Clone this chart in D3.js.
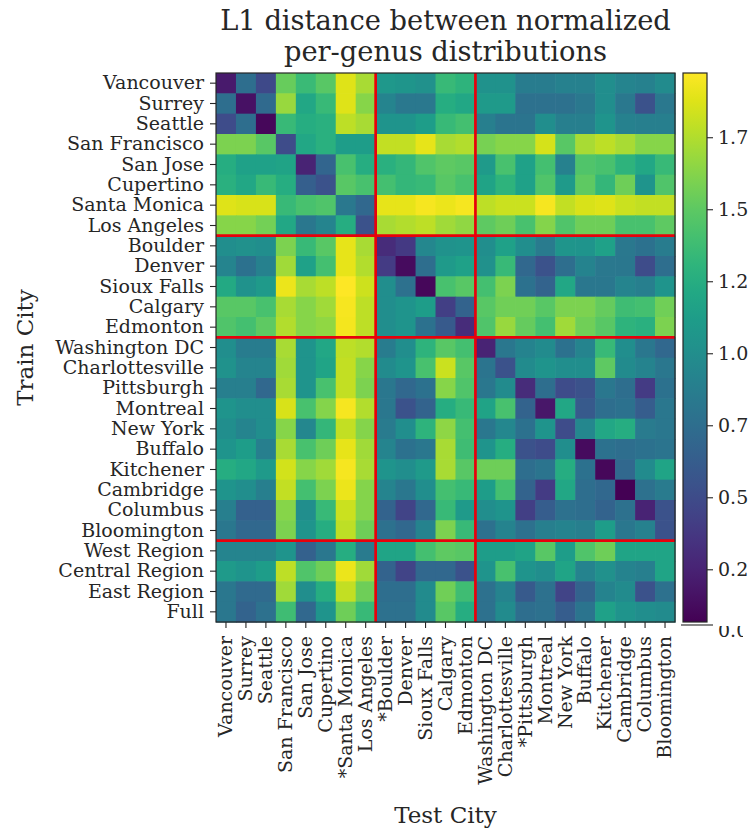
<!DOCTYPE html>
<html>
<head>
<meta charset="utf-8">
<script src="https://cdn.jsdelivr.net/npm/d3@7"></script>
<style>
  body { margin: 0; background: #fff; }
  svg { display: block; }
  text { font-family: "DejaVu Serif", serif; fill: #262626; }
</style>
</head>
<body>
<svg id="chart" width="749" height="829"></svg>
<script>
// Cities used for evaluation (columns); a leading * marks a held-out city
const testCities = ["Vancouver", "Surrey", "Seattle", "San Francisco", "San Jose", "Cupertino",
  "*Santa Monica", "Los Angeles", "*Boulder", "Denver", "Sioux Falls", "Calgary", "Edmonton",
  "Washington DC", "Charlottesville", "*Pittsburgh", "Montreal", "New York", "Buffalo",
  "Kitchener", "Cambridge", "Columbus", "Bloomington"];

// Cities / regions used for training (rows)
const trainCities = ["Vancouver", "Surrey", "Seattle", "San Francisco", "San Jose", "Cupertino",
  "Santa Monica", "Los Angeles", "Boulder", "Denver", "Sioux Falls", "Calgary", "Edmonton",
  "Washington DC", "Charlottesville", "Pittsburgh", "Montreal", "New York", "Buffalo",
  "Kitchener", "Cambridge", "Columbus", "Bloomington", "West Region", "Central Region",
  "East Region", "Full"];

// L1 distance for each train row, one value per test column
const distanceRows = [
  [0.20, 0.75, 0.49, 1.53, 1.36, 1.48, 1.88, 1.72, 1.08, 1.06, 1.02, 1.35, 1.30, 1.04, 1.04, 0.86, 0.86, 0.90, 0.90, 1.00, 0.93, 0.90, 0.98],
  [0.75, 0.15, 0.72, 1.68, 1.20, 1.35, 1.88, 1.63, 0.93, 0.83, 0.83, 1.25, 1.20, 1.10, 1.10, 0.77, 0.77, 0.77, 0.83, 1.00, 0.83, 0.55, 0.83],
  [0.50, 0.75, 0.10, 1.35, 1.25, 1.28, 1.78, 1.72, 1.05, 1.05, 1.12, 1.35, 1.40, 0.88, 0.80, 0.80, 1.00, 0.88, 0.88, 1.05, 0.90, 0.88, 0.88],
  [1.60, 1.60, 1.48, 0.50, 1.20, 1.28, 1.12, 1.12, 1.80, 1.80, 1.90, 1.72, 1.75, 1.58, 1.63, 1.63, 1.85, 1.48, 1.72, 1.78, 1.72, 1.63, 1.63],
  [1.25, 1.15, 1.15, 1.17, 0.25, 0.68, 1.42, 1.25, 1.28, 1.33, 1.45, 1.50, 1.48, 1.10, 1.42, 1.15, 1.40, 0.90, 1.45, 1.42, 1.30, 1.20, 1.35],
  [1.28, 1.20, 1.35, 1.25, 0.64, 0.55, 1.48, 1.42, 1.40, 1.33, 1.35, 1.48, 1.42, 1.17, 1.30, 1.15, 1.45, 1.10, 1.50, 1.33, 1.55, 1.05, 1.45],
  [1.88, 1.86, 1.86, 1.35, 1.42, 1.45, 0.83, 0.70, 1.90, 1.90, 1.95, 1.92, 1.95, 1.78, 1.82, 1.82, 1.95, 1.80, 1.86, 1.88, 1.82, 1.80, 1.80],
  [1.63, 1.63, 1.57, 1.20, 0.82, 0.93, 1.25, 0.55, 1.72, 1.75, 1.78, 1.70, 1.66, 1.50, 1.55, 1.42, 1.62, 1.45, 1.55, 1.55, 1.42, 1.42, 1.50],
  [1.00, 1.02, 1.00, 1.60, 1.35, 1.48, 1.90, 1.72, 0.30, 0.38, 0.95, 1.03, 1.05, 1.00, 1.15, 1.00, 0.85, 1.06, 1.05, 1.15, 0.83, 0.78, 0.86],
  [0.93, 0.78, 0.90, 1.70, 1.15, 1.40, 1.90, 1.75, 0.40, 0.12, 0.75, 1.10, 1.15, 1.02, 1.35, 0.70, 0.55, 0.75, 0.92, 0.83, 0.82, 0.50, 0.75],
  [1.22, 1.03, 1.10, 1.92, 1.72, 1.78, 1.97, 1.83, 1.00, 0.77, 0.10, 1.42, 1.48, 1.40, 1.60, 0.78, 0.67, 1.20, 0.82, 0.82, 0.93, 0.88, 1.05],
  [1.48, 1.48, 1.42, 1.72, 1.63, 1.70, 1.95, 1.78, 1.00, 1.05, 1.12, 0.42, 0.67, 1.48, 1.56, 1.56, 1.48, 1.60, 1.60, 1.52, 1.38, 1.40, 1.56],
  [1.45, 1.40, 1.50, 1.75, 1.63, 1.66, 1.94, 1.78, 1.00, 1.05, 0.78, 0.60, 0.30, 1.45, 1.68, 1.52, 1.40, 1.70, 1.56, 1.48, 1.30, 1.28, 1.60],
  [1.00, 0.86, 0.86, 1.72, 1.05, 1.20, 1.78, 1.75, 0.86, 1.00, 1.30, 1.48, 1.40, 0.25, 0.82, 0.92, 0.98, 0.78, 0.93, 1.35, 1.00, 0.82, 0.70],
  [1.03, 0.93, 0.93, 1.70, 1.05, 1.18, 1.80, 1.63, 0.98, 1.05, 1.42, 1.82, 1.48, 0.80, 0.55, 0.98, 1.05, 1.00, 1.00, 1.50, 0.98, 0.92, 0.82],
  [0.88, 0.88, 0.70, 1.72, 1.05, 1.42, 1.80, 1.60, 0.82, 0.70, 0.78, 1.63, 1.45, 0.82, 0.98, 0.30, 0.75, 0.50, 0.55, 0.82, 0.75, 0.40, 0.78],
  [1.05, 1.00, 1.00, 1.86, 1.42, 1.62, 1.95, 1.75, 0.82, 0.55, 0.67, 1.25, 1.35, 1.17, 1.42, 0.67, 0.18, 1.20, 0.60, 0.75, 0.78, 0.62, 0.82],
  [1.00, 0.93, 1.00, 1.63, 0.95, 1.33, 1.80, 1.62, 0.85, 1.00, 1.30, 1.65, 1.40, 0.82, 0.95, 0.78, 1.05, 0.50, 0.95, 1.20, 1.25, 0.85, 0.82],
  [1.05, 1.12, 0.88, 1.72, 1.42, 1.55, 1.90, 1.70, 0.93, 0.78, 0.82, 1.72, 1.38, 1.05, 1.25, 0.55, 0.50, 1.00, 0.12, 0.78, 0.75, 0.78, 0.80],
  [1.25, 1.20, 1.10, 1.84, 1.63, 1.70, 1.95, 1.72, 1.05, 1.00, 1.10, 1.72, 1.48, 1.55, 1.55, 0.75, 0.80, 1.25, 0.78, 0.10, 0.70, 0.98, 1.18],
  [1.05, 1.00, 0.88, 1.80, 1.40, 1.60, 1.92, 1.62, 0.93, 0.82, 1.00, 1.40, 1.35, 1.12, 1.40, 0.67, 0.40, 1.20, 0.75, 0.70, 0.07, 0.77, 0.85],
  [0.88, 0.65, 0.65, 1.63, 1.00, 1.35, 1.82, 1.62, 0.67, 0.45, 0.70, 1.35, 1.10, 1.00, 1.05, 0.42, 0.62, 0.77, 0.75, 0.67, 0.77, 0.25, 0.55],
  [0.82, 0.70, 0.70, 1.60, 1.05, 1.25, 1.78, 1.55, 0.77, 0.70, 0.92, 1.60, 1.35, 0.77, 0.92, 0.77, 0.88, 0.92, 0.88, 1.12, 0.82, 0.90, 0.55],
  [0.93, 0.93, 0.93, 1.05, 0.65, 0.82, 1.25, 0.85, 1.18, 1.18, 1.40, 1.50, 1.48, 1.12, 1.12, 1.17, 1.48, 1.12, 1.45, 1.55, 1.18, 1.18, 1.18],
  [1.10, 1.05, 1.12, 1.78, 1.45, 1.55, 1.92, 1.70, 0.67, 0.45, 0.70, 0.70, 0.55, 1.05, 1.42, 1.05, 1.00, 1.18, 0.92, 1.02, 0.92, 0.88, 1.18],
  [0.82, 0.72, 0.72, 1.70, 1.00, 1.25, 1.80, 1.55, 0.75, 0.75, 0.98, 1.56, 1.38, 0.77, 0.92, 0.60, 0.77, 0.45, 0.67, 0.92, 0.98, 0.55, 0.77],
  [0.82, 0.67, 0.77, 1.38, 0.70, 1.05, 1.55, 1.35, 0.77, 0.77, 0.98, 1.48, 1.25, 0.77, 0.98, 0.75, 0.77, 0.62, 0.80, 1.15, 1.05, 1.00, 0.98]
];

// Region boundaries: the first city of each new group
const testGroupStarts = ["*Boulder", "Washington DC"];
const trainGroupStarts = ["Boulder", "Washington DC", "West Region"];

// Colour range and colour-bar ticks
const colorDomain = [0.067, 1.973];
const colorbarTicks = [0.25, 0.5, 0.75, 1.0, 1.25, 1.5, 1.75];
const colorbarTickLabels = ["0.2", "0.5", "0.7", "1.0", "1.2", "1.5", "1.7"];
const colorbarEndLabel = "0.0";

const titleLines = ["L1 distance between normalized", "per-genus distributions"];
const xTitle = "Test City";
const yTitle = "Train City";

// ---- layout ----
const svg = d3.select("#chart");
const plot = { left: 216, right: 675, top: 73, bottom: 622 };
const cbar = { left: 683, right: 707 };
const tickFont = 19, labelFont = 23, titleFont = 27.3;
const ink = "#262626";

const x = d3.scaleBand().domain(testCities).range([plot.left, plot.right]);
const y = d3.scaleBand().domain(trainCities).range([plot.top, plot.bottom]);
const color = d3.scaleSequential(d3.interpolateViridis).domain(colorDomain);

const cells = [];
trainCities.forEach((train, i) => {
  testCities.forEach((test, j) => cells.push({ train, test, value: distanceRows[i][j] }));
});

// heatmap cells
svg.append("g")
  .selectAll("rect")
  .data(cells)
  .join("rect")
  .attr("x", d => x(d.test))
  .attr("y", d => y(d.train))
  .attr("width", x.bandwidth() + 0.6)
  .attr("height", y.bandwidth() + 0.6)
  .attr("fill", d => color(d.value));

// group separators
const sep = svg.append("g").attr("stroke", "#e8000b").attr("stroke-width", 2.7);
sep.selectAll("line.v")
  .data(testGroupStarts)
  .join("line")
  .attr("class", "v")
  .attr("x1", d => x(d)).attr("x2", d => x(d))
  .attr("y1", plot.top).attr("y2", plot.bottom);
sep.selectAll("line.h")
  .data(trainGroupStarts)
  .join("line")
  .attr("class", "h")
  .attr("y1", d => y(d)).attr("y2", d => y(d))
  .attr("x1", plot.left).attr("x2", plot.right);

// frame
svg.append("rect")
  .attr("x", plot.left).attr("y", plot.top)
  .attr("width", plot.right - plot.left).attr("height", plot.bottom - plot.top)
  .attr("fill", "none").attr("stroke", ink).attr("stroke-width", 1.2);

// y axis
const yAxis = svg.append("g")
  .attr("transform", `translate(${plot.left},0)`)
  .call(d3.axisLeft(y).tickSize(6).tickPadding(6));
yAxis.select(".domain").remove();
yAxis.selectAll(".tick line").attr("stroke", ink).attr("stroke-width", 1.1);
yAxis.selectAll(".tick text")
  .attr("font-size", tickFont)
  .attr("font-family", "DejaVu Serif")
  .attr("fill", ink);

// x axis with vertical labels
const xAxis = svg.append("g")
  .attr("transform", `translate(0,${plot.bottom})`)
  .call(d3.axisBottom(x).tickSize(6));
xAxis.select(".domain").remove();
xAxis.selectAll(".tick line").attr("stroke", ink).attr("stroke-width", 1.1);
xAxis.selectAll(".tick text")
  .attr("font-size", tickFont)
  .attr("font-family", "DejaVu Serif")
  .attr("fill", ink)
  .attr("transform", "rotate(-90)")
  .attr("text-anchor", "end")
  .attr("x", -14)
  .attr("y", 0)
  .attr("dy", "0.33em");

// colour bar
const cb = d3.scaleLinear().domain(colorDomain).range([plot.bottom, plot.top]);
const grad = svg.append("defs").append("linearGradient")
  .attr("id", "cbgrad").attr("x1", 0).attr("y1", 1).attr("x2", 0).attr("y2", 0);
d3.range(0, 1.0001, 0.05).forEach(t => {
  grad.append("stop")
    .attr("offset", t)
    .attr("stop-color", color(colorDomain[0] + t * (colorDomain[1] - colorDomain[0])));
});
svg.append("rect")
  .attr("x", cbar.left).attr("y", plot.top)
  .attr("width", cbar.right - cbar.left).attr("height", plot.bottom - plot.top)
  .attr("fill", "url(#cbgrad)")
  .attr("stroke", ink).attr("stroke-width", 1.2);

const cAxis = svg.append("g")
  .attr("transform", `translate(${cbar.right},0)`)
  .call(d3.axisRight(cb).tickValues(colorbarTicks)
    .tickFormat((d, i) => colorbarTickLabels[i]).tickSize(6).tickPadding(5));
cAxis.select(".domain").remove();
cAxis.selectAll(".tick line").attr("stroke", ink).attr("stroke-width", 1.1);
cAxis.selectAll(".tick text")
  .attr("font-size", tickFont)
  .attr("font-family", "DejaVu Serif")
  .attr("fill", ink);

// the lowest colour-bar label sits partly under the bar's lower edge
svg.append("clipPath").attr("id", "endclip")
  .append("rect").attr("x", cbar.left).attr("y", plot.bottom + 4).attr("width", 60).attr("height", 30);
svg.append("text")
  .attr("clip-path", "url(#endclip)")
  .attr("x", cbar.right + 11)
  .attr("y", plot.bottom + 15)
  .attr("font-size", tickFont)
  .attr("fill", ink)
  .text(colorbarEndLabel);
svg.append("line")
  .attr("x1", cbar.left - 2).attr("x2", cbar.right + 6)
  .attr("y1", plot.bottom + 3).attr("y2", plot.bottom + 3)
  .attr("stroke", ink).attr("stroke-width", 1.1);

// titles
const cx = (plot.left + plot.right) / 2;
svg.append("g")
  .selectAll("text")
  .data(titleLines)
  .join("text")
  .attr("x", cx)
  .attr("y", (d, i) => 30 + i * 31)
  .attr("text-anchor", "middle")
  .attr("font-size", titleFont)
  .attr("fill", ink)
  .text(d => d);

svg.append("text")
  .attr("x", cx)
  .attr("y", 823)
  .attr("text-anchor", "middle")
  .attr("font-size", labelFont)
  .attr("fill", ink)
  .text(xTitle);

svg.append("text")
  .attr("transform", `translate(33,${(plot.top + plot.bottom) / 2}) rotate(-90)`)
  .attr("text-anchor", "middle")
  .attr("font-size", labelFont)
  .attr("fill", ink)
  .text(yTitle);
</script>
</body>
</html>
